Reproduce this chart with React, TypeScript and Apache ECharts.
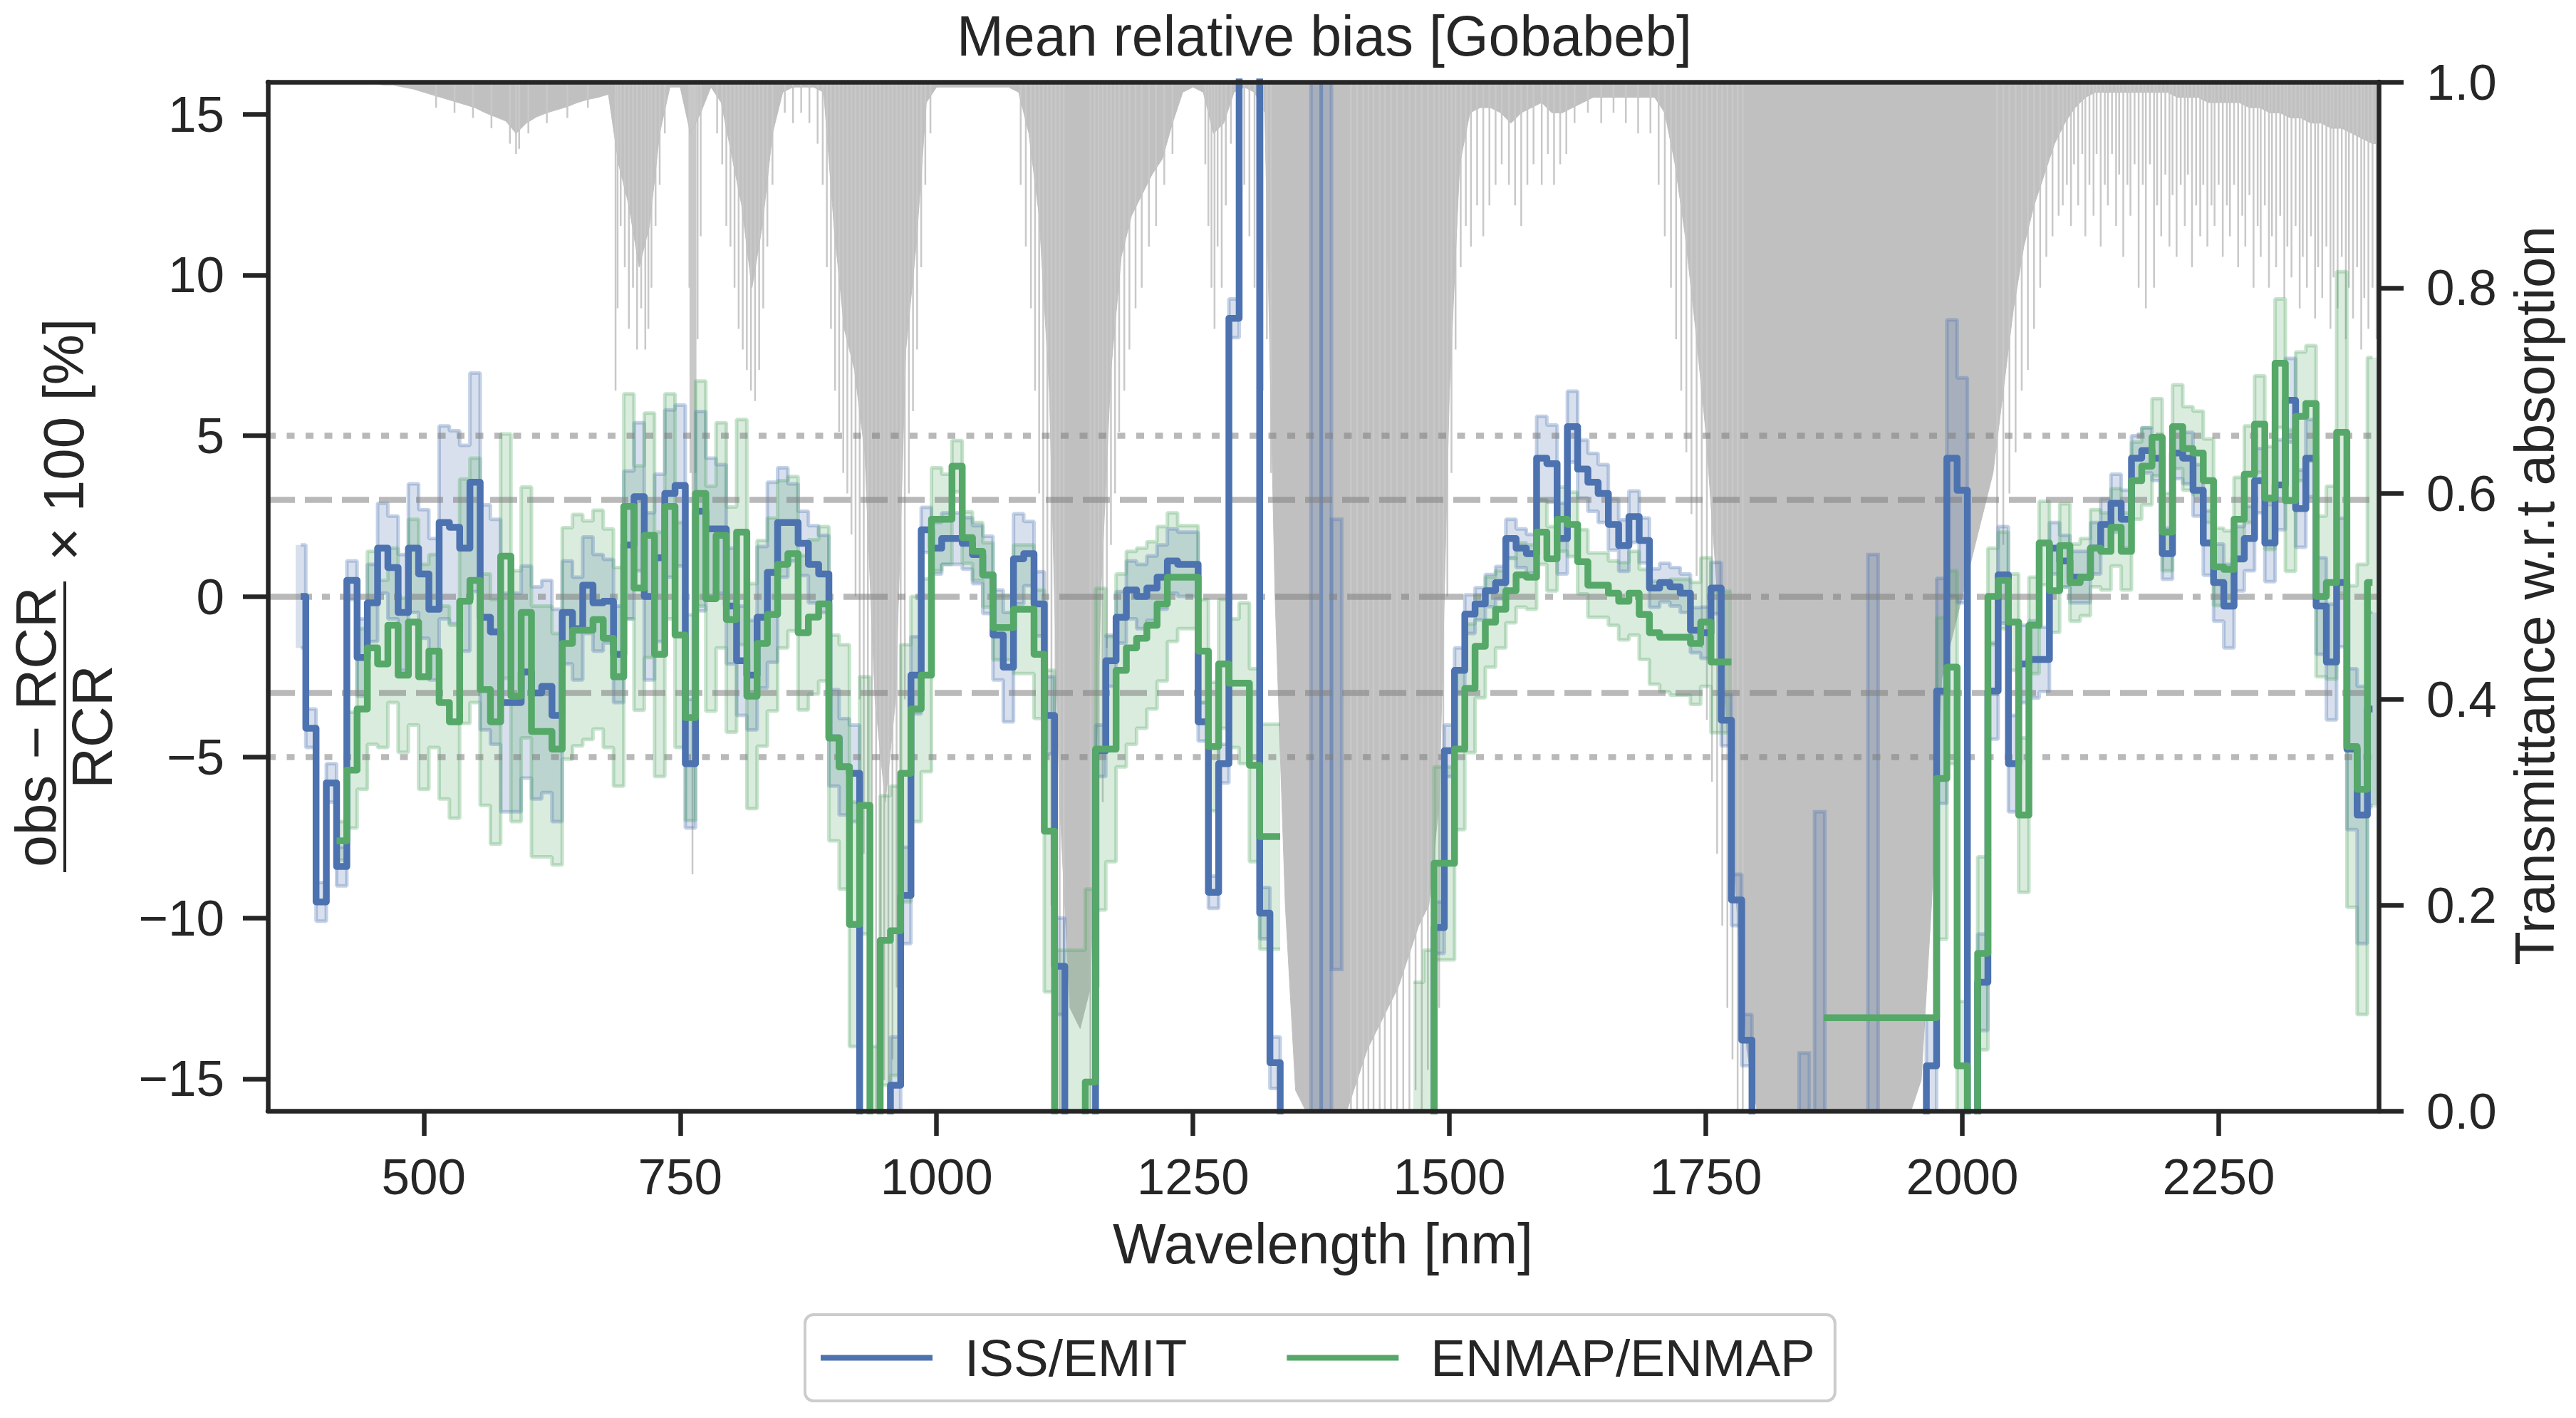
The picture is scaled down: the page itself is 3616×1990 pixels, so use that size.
import React, { useEffect, useRef } from 'react';
import * as echarts from 'echarts';

// spectral grid shared by the bias series: 380 nm .. 2400 nm every 10 nm
const WL_START = 380;
const WL_STEP = 10;

// mean relative bias [%] per band, ISS/EMIT (null = no data)
const EMIT_MEAN = [
  0, -4.1, -9.5, -5.8, -8.4, 0.5, -1.9, -0.2, 1.5, 0.9, // 380
  -0.5, 1.5, 0.7, -0.4, 2.3, 2.15, 1.5, 3.55, -0.65, -1.1, // 480
  -3.3, -3.3, -2.35, -3.0, -2.8, -3.7, -0.5, -1.0, 0.35, -0.2, // 580
  -0.15, -1.8, 1.6, 3.1, 0, 1.2, 3.2, 3.45, -5.2, 2.65, // 680
  2.1, 2.1, -0.3, -2.0, -2.45, -0.65, 0.75, 2.3, 2.3, 1.65, // 780
  1.0, 0.7, -4.4, -5.3, -5.5, -20, -20, -20, -15.2, -9.3, // 880
  -2.45, 2.07, 1.5, 1.8, 1.8, 1.65, 1.3, 0.67, -1.2, -2.2, // 980
  1.17, 1.33, -0.23, -3.7, -11.5, -20, -20, -20, -4.8, -2.0, // 1080
  -0.65, 0.2, 0, 0.26, 0.6, 1.1, 1.0, 1.0, -3.9, -9.2, // 1180
  -5.2, 8.65, 20, 20, -9.85, -14.5, -20, null, null, null, // 1280
  null, null, null, null, null, null, null, null, null, null, // 1380
  -20, -10.3, -4.8, -2.3, -0.55, -0.23, 0.18, 0.43, 1.8, 1.5, // 1480
  1.33, 4.3, 4.13, 1.8, 5.28, 3.96, 3.55, 3.2, 2.24, 1.58, // 1580
  2.48, 1.74, 0.26, 0.43, 0.3, 0.1, -1.05, -1.13, 0.26, -3.85, // 1680
  -9.44, -13.8, -20, null, null, null, null, null, null, null, // 1780
  null, null, null, null, null, null, null, null, -20, -14.6, // 1880
  -2.94, 4.3, 3.3, -20, -12, -2.94, 0.67, -5.2, -2.1, -1.96, // 1980
  -1.96, 1.5, 1.1, 0.6, 0.6, 1.5, 2.24, 2.9, 2.4, 4.3, // 2080
  4.54, 4.3, 1.33, 4.46, 4.3, 3.3, 1.66, 0.43, -0.3, 1.17, // 2180
  1.8, 3.6, 1.66, 3.47, 6.1, 2.73, 4.3, -0.3, -2.04, 0.43, // 2280
  -4.75, -6.8, -3.5, // 2380
];

// standard deviation [%], ISS/EMIT
const EMIT_STD = [
  1.6, 0.6, 0.6, 0.6, 0.6, 0.6, 1.2, 1.2, 1.4, 1.6,
  1.8, 2.0, 2.0, 2.2, 3.0, 3.0, 3.2, 3.4, 3.5, 3.5,
  3.4, 3.4, 3.3, 3.3, 3.3, 3.3, 1.6, 1.6, 1.5, 1.5,
  1.3, 1.5, 2.3, 2.3, 2.6, 2.6, 2.6, 2.5, 2.0, 3.1,
  2.2, 2.0, 1.8, 1.7, 1.7, 2.2, 2.8, 1.7, 1.2, 1.0,
  1.2, 1.2, 1.5, 1.5, 1.5, 2.0, 2.0, 2.0, 1.5, 1.5,
  1.2, 0.7, 0.8, 0.8, 0.8, 0.8, 0.9, 1.2, 1.4, 1.7,
  1.4, 1.0, 1.0, 1.2, 1.5, 2.0, 2.0, 2.0, 0.8, 0.8,
  0.8, 0.9, 1.0, 1.0, 1.0, 1.0, 1.0, 1.0, 0.6, 0.5,
  0.6, 0.6, 1.0, 1.0, 0.8, 0.8, 2.0, 0, 0, 0,
  0, 0, 0, 0, 0, 0, 0, 0, 0, 0,
  2.0, 0.8, 0.8, 0.7, 0.6, 0.5, 0.5, 0.5, 0.6, 0.6,
  0.6, 1.3, 1.2, 1.1, 1.1, 0.9, 0.9, 0.9, 0.8, 0.8,
  0.8, 0.7, 0.6, 0.6, 0.6, 0.6, 0.7, 0.8, 0.8, 0.8,
  0.8, 0.8, 2.0, 0, 0, 0, 0, 0, 0, 0,
  0, 0, 0, 0, 0, 0, 0, 0, 2.0, 1.5,
  3.5, 4.3, 3.5, 2.0, 1.5, 1.5, 1.5, 1.5, 1.2, 1.2,
  1.0, 0.8, 0.8, 0.8, 0.8, 0.8, 0.8, 0.9, 0.9, 0.7,
  0.7, 0.7, 0.8, 0.8, 0.8, 0.8, 1.0, 1.2, 1.3, 1.0,
  1.0, 1.0, 1.2, 1.4, 1.3, 1.2, 1.2, 1.5, 1.8, 2.0,
  2.5, 4.0, 3.0,
];

// mean relative bias [%] per band, ENMAP/ENMAP
const ENMAP_MEAN = [
  null, null, null, null, -7.6, -5.4, -3.5, -1.6, -2.1, -0.9, // 380
  -2.45, -0.8, -2.5, -1.7, -3.3, -3.9, -0.15, 0.5, -2.9, -3.9, // 480
  1.25, -3.1, -0.5, -4.2, -4.2, -4.75, -1.46, -1.05, -1.05, -0.72, // 580
  -1.3, -2.5, 2.8, 0.26, 1.9, -1.8, 2.8, -1.2, -3.77, 3.2, // 680
  -0.07, 1.9, -0.72, 2.0, -3.1, -1.46, -0.56, 1.0, 1.33, -1.13, // 780
  -0.64, -0.23, -4.4, -5.3, -10.2, -6.5, -20, -10.7, -10.4, -5.5, // 880
  -3.5, -2.45, 2.4, 2.4, 4.05, 1.83, 1.4, 0.67, -0.97, -0.97, // 980
  -0.4, -0.4, -1.8, -7.3, -20, -20, -20, -15.1, -4.75, -4.75, // 1080
  -2.3, -1.6, -1.3, -0.9, -0.23, 0.6, 0.6, 0.6, -1.7, -4.67, // 1180
  -2.1, -2.7, -2.7, -5.25, -7.47, -7.47, null, null, null, null, // 1280
  null, null, null, null, null, null, null, null, null, -24, // 1380
  -20, -8.3, -8.3, -4.75, -2.86, -1.55, -0.8, -0.4, 0.18, 0.67, // 1480
  0.6, 2.0, 1.17, 2.4, 2.24, 1.08, 0.35, 0.35, 0.1, -0.15, // 1580
  0.1, -0.56, -1.13, -1.27, -1.27, -1.27, -1.46, -0.8, -2.04, -2.04, // 1680
  null, null, null, null, null, null, null, null, null, -13.1, // 1780
  -13.1, -13.1, -13.1, -13.1, -13.1, -13.1, -13.1, -13.1, -13.1, -13.1, // 1880
  -5.66, -2.2, -14.6, -20, -11.1, 0, 0.5, -0.8, -6.8, -0.9, // 1980
  1.66, 0.18, 1.58, 0.43, 0.6, 1.5, 1.4, 2.15, 1.4, 3.6, // 2080
  4.05, 4.95, 2.0, 5.28, 4.6, 4.46, 3.6, 0.92, 0.84, 2.4, // 2180
  3.8, 5.36, 3.06, 7.25, 2.98, 5.6, 6.0, 0, 0.43, 5.1, // 2280
  -4.67, -6.0, 0.43, // 2380
];

// standard deviation [%], ENMAP/ENMAP
const ENMAP_STD = [
  0, 0, 0, 0, 0.6, 1.8, 2.5, 3.0, 2.6, 2.4,
  2.4, 3.2, 3.5, 3.0, 3.0, 3.0, 3.8, 3.8, 3.6, 3.8,
  3.8, 3.9, 3.9, 3.9, 3.9, 3.6, 3.6, 3.6, 3.4, 3.4,
  3.4, 3.4, 3.5, 3.8, 3.8, 3.8, 3.5, 3.5, 3.2, 3.5,
  3.5, 3.5, 3.5, 3.5, 3.5, 3.2, 3.0, 2.6, 2.4, 2.4,
  2.4, 2.4, 3.2, 3.8, 3.8, 4.0, 6.0, 4.5, 4.5, 4.0,
  3.5, 3.0, 1.6, 1.4, 0.8, 0.8, 0.9, 1.0, 1.0, 1.0,
  2.0, 2.0, 2.0, 5.0, 9.0, 9.0, 9.0, 6.0, 5.0, 3.5,
  3.0, 3.0, 2.8, 2.6, 2.4, 2.0, 1.6, 1.6, 1.6, 2.0,
  2.0, 2.0, 2.5, 3.0, 3.5, 3.5, 0, 0, 0, 0,
  0, 0, 0, 0, 0, 0, 0, 0, 0, 12,
  9.0, 3.0, 3.0, 2.5, 2.0, 1.6, 1.4, 1.2, 1.0, 1.0,
  1.0, 1.0, 1.0, 1.0, 1.0, 1.0, 1.0, 1.0, 1.0, 1.2,
  1.3, 1.4, 1.6, 1.7, 1.8, 1.8, 1.9, 2.0, 2.2, 2.2,
  0, 0, 0, 0, 0, 0, 0, 0, 0, 0,
  0, 0, 0, 0, 0, 0, 0, 0, 0, 0,
  5.0, 3.0, 2.0, 0, 3.0, 1.5, 1.5, 1.5, 2.4, 1.5,
  1.3, 1.3, 1.3, 1.2, 1.2, 1.2, 1.2, 1.2, 1.2, 1.2,
  1.2, 1.2, 1.2, 1.3, 1.3, 1.3, 1.3, 1.2, 1.2, 1.3,
  1.5, 1.5, 1.6, 2.0, 2.2, 2.0, 1.8, 2.5, 3.0, 5.0,
  5.0, 7.0, 7.0,
];

// EMIT spread inside the absorption gaps: [wavelength, low, high]
const EMIT_GAP_BANDS = [
  [1370, -40, 40], [1380, -40, 40], [1390, -11.6, 2.4],
  [1846, -40, -14.2], [1861, -40, -6.7], [1913, -40, 1.3],
];

// atmospheric transmittance (solid envelope), same grid, one extra point at 2410
const TRANSMITTANCE = [
  1, 1, 1, 1, 1, 1, 1, 1, 0.997, 0.997, // 380
  0.995, 0.993, 0.99, 0.987, 0.984, 0.981, 0.978, 0.975, 0.97, 0.966, // 480
  0.962, 0.95, 0.96, 0.966, 0.97, 0.973, 0.976, 0.98, 0.983, 0.985, // 580
  0.988, 0.92, 0.88, 0.82, 0.86, 0.95, 0.995, 0.995, 0.95, 0.97, // 680
  0.995, 0.98, 0.93, 0.88, 0.8, 0.86, 0.95, 0.99, 0.995, 0.995, // 780
  0.995, 0.99, 0.86, 0.76, 0.72, 0.64, 0.4, 0.3, 0.4, 0.74, // 880
  0.84, 0.98, 0.995, 0.995, 0.995, 0.995, 0.995, 0.995, 0.995, 0.995, // 980
  0.99, 0.95, 0.87, 0.7, 0.3, 0.1, 0.08, 0.12, 0.5, 0.72, // 1080
  0.83, 0.87, 0.89, 0.91, 0.925, 0.96, 0.99, 0.995, 0.99, 0.95, // 1180
  0.96, 0.99, 0.995, 0.99, 0.97, 0.5, 0.2, 0.02, 0, 0, // 1280
  0, 0, 0, 0.03, 0.06, 0.08, 0.1, 0.12, 0.15, 0.18, // 1380
  0.2, 0.3, 0.7, 0.92, 0.97, 0.975, 0.975, 0.97, 0.96, 0.97, // 1480
  0.975, 0.98, 0.97, 0.97, 0.975, 0.98, 0.985, 0.985, 0.985, 0.985, // 1580
  0.985, 0.985, 0.985, 0.97, 0.92, 0.85, 0.76, 0.66, 0.52, 0.38, // 1680
  0.2, 0.06, 0, 0, 0, 0, 0, 0, 0, 0, // 1780
  0, 0, 0, 0, 0, 0, 0, 0, 0.03, 0.2, // 1880
  0.42, 0.46, 0.5, 0.54, 0.58, 0.62, 0.7, 0.78, 0.84, 0.88, // 1980
  0.91, 0.94, 0.96, 0.975, 0.985, 0.99, 0.99, 0.99, 0.99, 0.99, // 2080
  0.99, 0.99, 0.99, 0.985, 0.985, 0.985, 0.98, 0.98, 0.98, 0.98, // 2180
  0.975, 0.975, 0.97, 0.97, 0.965, 0.965, 0.96, 0.96, 0.955, 0.955, // 2280
  0.95, 0.945, 0.94, 0.94, // 2380
];

// narrow absorption lines reaching below the envelope: [wavelength, transmittance]
const ABSORPTION_LINES = [
  [512, 0.975], [530, 0.97], [548, 0.965], [566, 0.955], [584, 0.94], [590, 0.93], [593, 0.935], [602, 0.95], [620, 0.96], [640, 0.965], [660, 0.975],
  [687, 0.7], [689, 0.78], [692, 0.86], [696, 0.82], [700, 0.76], [704, 0.8], [708, 0.74], [712, 0.78], [716, 0.74], [719, 0.76], [722, 0.8], [726, 0.86], [730, 0.9], [735, 0.95],
  [759, 0.8], [760, 0.62], [761, 0.62], [762, 0.23], [763, 0.5], [764, 0.62], [765, 0.62], [767, 0.75], [770, 0.85],
  [786, 0.95], [791, 0.92], [795, 0.86], [799, 0.84], [803, 0.8], [807, 0.76], [811, 0.74], [815, 0.72], [819, 0.7], [823, 0.69], [827, 0.72], [831, 0.78], [835, 0.84], [840, 0.9],
  [852, 0.97], [860, 0.96], [868, 0.97], [876, 0.96], [884, 0.94],
  [889, 0.9], [893, 0.82], [897, 0.76], [901, 0.7], [905, 0.66], [909, 0.62], [913, 0.6], [917, 0.56], [921, 0.5], [925, 0.4], [929, 0.25], [933, 0.12], [937, 0.02], [941, 0], [945, 0], [949, 0.03], [953, 0], [957, 0.05], [961, 0.12], [965, 0.22], [969, 0.4], [973, 0.6], [977, 0.68], [981, 0.74], [985, 0.82], [989, 0.9], [994, 0.95],
  [1082, 0.9], [1087, 0.84], [1092, 0.78], [1096, 0.7], [1100, 0.6], [1104, 0.5], [1108, 0.35], [1112, 0.2], [1116, 0.05], [1120, 0], [1124, 0], [1150, 0], [1154, 0.05], [1158, 0.12], [1162, 0.3], [1166, 0.45], [1170, 0.55], [1174, 0.6], [1178, 0.66], [1183, 0.7], [1188, 0.74], [1194, 0.78], [1200, 0.8], [1207, 0.84], [1214, 0.86], [1222, 0.9], [1230, 0.93],
  [1262, 0.92], [1265, 0.86], [1268, 0.8], [1271, 0.76], [1274, 0.84], [1278, 0.8], [1282, 0.88], [1287, 0.94],
  [1300, 0.9], [1305, 0.85], [1310, 0.8], [1314, 0.78], [1318, 0.7], [1322, 0.75], [1326, 0.62],
  [1404, 0], [1410, 0], [1416, 0], [1421, 0], [1426, 0], [1432, 0], [1437, 0], [1443, 0], [1449, 0], [1455, 0], [1461, 0], [1467, 0.02], [1473, 0], [1479, 0.04], [1485, 0.02], [1490, 0.1], [1494, 0.3], [1498, 0.5], [1502, 0.62], [1506, 0.74], [1511, 0.82],
  [1516, 0.86], [1521, 0.84], [1527, 0.88], [1533, 0.85], [1539, 0.88], [1545, 0.9], [1551, 0.92], [1558, 0.9], [1564, 0.88], [1570, 0.86], [1576, 0.9], [1582, 0.92], [1590, 0.9], [1596, 0.93], [1602, 0.9], [1608, 0.92], [1614, 0.93], [1622, 0.96], [1635, 0.97], [1648, 0.96], [1660, 0.97], [1672, 0.96], [1684, 0.95], [1696, 0.95], [1704, 0.9], [1710, 0.85],
  [1716, 0.8], [1721, 0.75], [1726, 0.7], [1731, 0.64], [1736, 0.58], [1741, 0.52], [1746, 0.45], [1751, 0.38], [1756, 0.32], [1761, 0.25], [1766, 0.18], [1771, 0.1], [1776, 0.05], [1781, 0], [1786, 0],
  [2034, 0.5], [2040, 0.55], [2046, 0.6], [2052, 0.64], [2058, 0.7], [2064, 0.72], [2070, 0.76], [2076, 0.8], [2082, 0.83], [2088, 0.85], [2094, 0.87], [2098, 0.88],
  [2102, 0.9], [2106, 0.86], [2109, 0.92], [2113, 0.88], [2117, 0.93], [2120, 0.85], [2124, 0.9], [2128, 0.87], [2131, 0.93], [2135, 0.84], [2139, 0.9], [2142, 0.88], [2146, 0.93], [2150, 0.86], [2153, 0.91], [2157, 0.83], [2161, 0.9], [2164, 0.87], [2168, 0.92], [2172, 0.8], [2176, 0.9], [2179, 0.78], [2183, 0.92], [2187, 0.8], [2190, 0.88], [2194, 0.85], [2198, 0.91], [2202, 0.84], [2205, 0.89], [2209, 0.83], [2213, 0.9], [2217, 0.86], [2220, 0.91], [2224, 0.82], [2228, 0.88], [2232, 0.85], [2235, 0.9], [2239, 0.84], [2243, 0.88], [2246, 0.86], [2250, 0.9], [2254, 0.83], [2258, 0.88], [2261, 0.85], [2265, 0.9], [2269, 0.82], [2273, 0.87], [2276, 0.84], [2280, 0.89], [2284, 0.8], [2288, 0.86], [2291, 0.83], [2295, 0.88], [2299, 0.8], [2302, 0.85], [2306, 0.82], [2310, 0.87], [2314, 0.79], [2317, 0.84], [2321, 0.81], [2325, 0.86], [2329, 0.78], [2332, 0.83], [2336, 0.8], [2340, 0.85], [2344, 0.77], [2347, 0.82], [2351, 0.79], [2355, 0.84], [2359, 0.76], [2362, 0.81], [2366, 0.78], [2370, 0.83], [2374, 0.75], [2377, 0.8], [2381, 0.77], [2385, 0.82], [2389, 0.74], [2392, 0.79], [2396, 0.76], [2400, 0.8], [2404, 0.75],
];

const X_TICKS = [500, 750, 1000, 1250, 1500, 1750, 2000, 2250];
const Y_TICKS = [-15, -10, -5, 0, 5, 10, 15];
const DOTTED_LEVELS = [5, -5];
const DASHED_LEVELS = [3, -3];
const DASHDOT_LEVELS = [0];

const FONT = '"Liberation Sans", Arial, Helvetica, sans-serif';
const INK = '#262626';
const BLUE = '#4c72b0';
const GREEN = '#55a868';
const GREY = '#c0c0c0';

const wl = (i: number) => WL_START + i * WL_STEP;
const pairs = (arr: (number | null)[]) => arr.map((v, i) => [wl(i), v]);
const minus = (v: number) => (v < 0 ? '\u2212' + Math.abs(v) : String(v));

// mean +/- std band: one filled step per band (custom series) plus the two stepped edges
function bandSeries(key: string, mean: (number | null)[], std: number[], rgb: string) {
  const cells = mean
    .map((m, i) => (m == null ? null : [wl(i), m - std[i], m + std[i]]))
    .filter((c) => c !== null) as number[][];
  const lower = mean.map((m, i) => (m == null ? null : m - std[i]));
  const upper = mean.map((m, i) => (m == null ? null : m + std[i]));
  const edge = { color: `rgba(${rgb},0.32)`, width: 5 };
  const common = { type: 'line', step: 'middle', symbol: 'none', silent: true, z: 3 };
  return [
    {
      name: key + '-fill', type: 'custom', z: 3, silent: true, clip: true,
      data: cells,
      renderItem: (_: any, api: any) => {
        const p0 = api.coord([api.value(0) - WL_STEP / 2, api.value(2)]);
        const p1 = api.coord([api.value(0) + WL_STEP / 2, api.value(1)]);
        const x0 = Math.round(p0[0]);
        const x1 = Math.round(p1[0]);
        return {
          type: 'rect',
          shape: { x: x0, y: p0[1], width: x1 - x0, height: p1[1] - p0[1] },
          style: { fill: `rgba(${rgb},0.22)` },
        };
      },
    },
    { ...common, name: key + '-upper-edge', data: pairs(upper), lineStyle: edge },
    { ...common, name: key + '-lower-edge', data: pairs(lower), lineStyle: edge },
  ];
}

function buildOption() {
  const axisLine = { show: true, onZero: false, lineStyle: { color: INK, width: 6.5 } };
  const tickLine = { color: INK, width: 6.5 };
  const labelStyle = { fontSize: 71, color: INK, fontFamily: FONT };

  const refLines = [
    ...DOTTED_LEVELS.map((y) => ({ yAxis: y, lineStyle: { type: [11, 15.5] } })),
    ...DASHED_LEVELS.map((y) => ({ yAxis: y, lineStyle: { type: [38, 14] } })),
    ...DASHDOT_LEVELS.map((y) => ({ yAxis: y, lineStyle: { type: [62, 14, 11, 14] } })),
  ];

  return {
    animation: false,
    backgroundColor: '#ffffff',
    textStyle: { fontFamily: FONT },
    grid: { left: 376, right: 277, top: 115, bottom: 431, containLabel: false },
    xAxis: [
      {
        type: 'value', min: 348, max: 2406, position: 'bottom', z: 10,
        axisLine,
        axisTick: { show: true, length: 35, lineStyle: tickLine, customValues: X_TICKS },
        axisLabel: { ...labelStyle, margin: 57, customValues: X_TICKS, formatter: (v: number) => String(v) },
        splitLine: { show: false },
      },
      {
        type: 'value', min: 348, max: 2406, position: 'top', z: 10,
        axisLine, axisTick: { show: false }, axisLabel: { show: false }, splitLine: { show: false },
      },
    ],
    yAxis: [
      {
        type: 'value', min: -16, max: 16, position: 'left', z: 10,
        axisLine,
        axisTick: { show: true, length: 35, lineStyle: tickLine, customValues: Y_TICKS },
        axisLabel: { ...labelStyle, margin: 61, customValues: Y_TICKS, formatter: (v: number) => minus(v) },
        splitLine: { show: false },
      },
      {
        type: 'value', min: 0, max: 1, interval: 0.2, position: 'right', z: 10,
        axisLine,
        axisTick: { show: true, length: 35, lineStyle: tickLine },
        axisLabel: { ...labelStyle, margin: 67, formatter: (v: number) => v.toFixed(1) },
        splitLine: { show: false },
      },
    ],
    legend: {
      data: ['ISS/EMIT', 'ENMAP/ENMAP'],
      left: 1130, top: 1845,
      icon: 'rect', itemWidth: 157, itemHeight: 8, itemGap: 140,
      padding: [24, 28, 24, 22],
      borderColor: '#cccccc', borderWidth: 4, borderRadius: 12,
      backgroundColor: '#ffffff',
      selectedMode: false,
      textStyle: { fontSize: 73, color: INK, fontFamily: FONT, padding: [0, 0, 0, 40] },
    },
    graphic: [
      {
        type: 'text', x: 1859, y: 50,
        style: { text: 'Mean relative bias [Gobabeb]', font: `79px ${FONT}`, fill: INK, textAlign: 'center', textVerticalAlign: 'middle' },
      },
      {
        type: 'text', x: 1857, y: 1745,
        style: { text: 'Wavelength [nm]', font: `79px ${FONT}`, fill: INK, textAlign: 'center', textVerticalAlign: 'middle' },
      },
      {
        type: 'text', x: 3558, y: 836, rotation: Math.PI / 2,
        style: { text: 'Transmittance w.r.t absorption', font: `78px ${FONT}`, fill: INK, textAlign: 'center', textVerticalAlign: 'middle' },
      },
      {
        type: 'group', x: 91, y: 1020, rotation: Math.PI / 2,
        children: [
          { type: 'text', x: 0, y: -41, style: { text: 'obs \u2212 RCR', font: `80px ${FONT}`, fill: INK, textAlign: 'center', textVerticalAlign: 'middle' } },
          { type: 'line', shape: { x1: -204, y1: 0, x2: 204, y2: 0 }, style: { stroke: INK, lineWidth: 4 } },
          { type: 'text', x: 0, y: 38, style: { text: 'RCR', font: `80px ${FONT}`, fill: INK, textAlign: 'center', textVerticalAlign: 'middle' } },
          { type: 'text', x: 403, y: -2, style: { text: '\u00d7 100 [%]', font: `80px ${FONT}`, fill: INK, textAlign: 'center', textVerticalAlign: 'middle' } },
        ],
      },
    ],
    series: [
      {
        name: 'transmittance', type: 'line', yAxisIndex: 1, z: 1, silent: true,
        data: TRANSMITTANCE.map((v, i) => [wl(i), v]),
        symbol: 'none',
        lineStyle: { color: GREY, width: 1 },
        areaStyle: { color: GREY, opacity: 1, origin: 'end' },
      },
      {
        name: 'absorption-lines', type: 'custom', yAxisIndex: 1, z: 1, silent: true, clip: true,
        data: ABSORPTION_LINES,
        renderItem: (_: any, api: any) => {
          const top = api.coord([api.value(0), 1]);
          const bottom = api.coord([api.value(0), api.value(1)]);
          return {
            type: 'line',
            shape: { x1: top[0], y1: top[1], x2: bottom[0], y2: bottom[1] },
            style: { stroke: '#c8c8c8', lineWidth: 2.5 },
          };
        },
      },
      ...bandSeries('emit', EMIT_MEAN, EMIT_STD, '76,114,176'),
      {
        name: 'emit-gap', type: 'custom', z: 3, silent: true, clip: true,
        data: EMIT_GAP_BANDS,
        renderItem: (_: any, api: any) => {
          const p0 = api.coord([api.value(0) - WL_STEP / 2, api.value(2)]);
          const p1 = api.coord([api.value(0) + WL_STEP / 2, api.value(1)]);
          return {
            type: 'rect',
            shape: { x: p0[0], y: p0[1], width: p1[0] - p0[0], height: p1[1] - p0[1] },
            style: { fill: 'rgba(76,114,176,0.22)', stroke: 'rgba(76,114,176,0.32)', lineWidth: 5 },
          };
        },
      },
      ...bandSeries('enmap', ENMAP_MEAN, ENMAP_STD, '85,168,104'),
      {
        name: 'reference', type: 'line', data: [], z: 4, silent: true,
        markLine: {
          silent: true, symbol: 'none', animation: false,
          label: { show: false },
          lineStyle: { color: 'rgba(128,128,128,0.55)', width: 8.5 },
          data: refLines,
        },
      },
      {
        name: 'ISS/EMIT', type: 'line', step: 'middle', symbol: 'none', z: 5,
        data: pairs(EMIT_MEAN),
        itemStyle: { color: BLUE },
        lineStyle: { color: BLUE, width: 9.5, join: 'round' },
      },
      {
        name: 'ENMAP/ENMAP', type: 'line', step: 'middle', symbol: 'none', z: 6,
        data: pairs(ENMAP_MEAN),
        itemStyle: { color: GREEN },
        lineStyle: { color: GREEN, width: 9.5, join: 'round' },
      },
    ],
  };
}

export default function App() {
  const chartRef = useRef<HTMLDivElement>(null);

  useEffect(() => {
    if (!chartRef.current) return;
    const chart = echarts.init(chartRef.current, undefined, { renderer: 'svg' });
    chart.setOption(buildOption() as any);
    return () => {
      chart.dispose();
    };
  }, []);

  return (
    <div
      ref={chartRef}
      style={{ position: 'fixed', left: 0, top: 0, width: 3616, height: 1990, background: '#ffffff' }}
    />
  );
}
